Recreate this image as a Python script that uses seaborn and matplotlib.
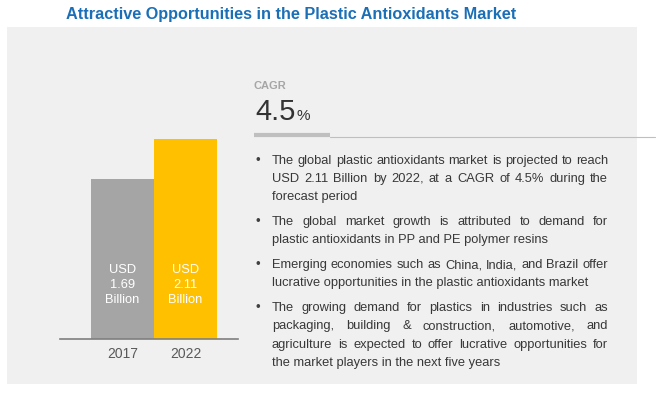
import matplotlib
matplotlib.use("Agg")
import matplotlib.pyplot as plt
import matplotlib.font_manager as fm
from matplotlib.patches import Rectangle
from matplotlib.lines import Line2D
import seaborn as sns
import pandas as pd

# ---------------- data ----------------
years = ["2017", "2022"]
values = [1.69, 2.11]
bar_colors = ["#A5A5A5", "#FFC000"]
cagr_value = "4.5"
title = "Attractive Opportunities in the Plastic Antioxidants Market"
bullets = [
    ["The global plastic antioxidants market is projected to reach",
     "USD 2.11 Billion by 2022, at a CAGR of 4.5% during the",
     "forecast period"],
    ["The global market growth is attributed to demand for",
     "plastic antioxidants in PP and PE polymer resins"],
    ["Emerging economies such as China, India, and Brazil offer",
     "lucrative opportunities in the plastic antioxidants market"],
    ["The growing demand for plastics in industries such as",
     "packaging, building & construction, automotive, and",
     "agriculture is expected to offer lucrative opportunities for",
     "the market players in the next five years"],
]

# ---------------- style ----------------
sns.set_theme(style="white")
plt.rcParams["font.family"] = ["Liberation Sans", "DejaVu Sans"]
names = {f.name for f in fm.fontManager.ttflist}
title_family = "Liberation Sans Narrow" if "Liberation Sans Narrow" in names else "Liberation Sans"
body_family = "Liberation Sans"

W, H = 660, 393
fig = plt.figure(figsize=(W / 100, H / 100), dpi=100)
fig.patch.set_facecolor("white")
renderer = fig.canvas.get_renderer()


def fx(x):
    return x / W


def fy(y):
    return 1 - y / H


def text_width(s, **kw):
    t = fig.text(0, 0, s, **kw)
    w = t.get_window_extent(renderer).width
    t.remove()
    return w


def fit_size(s, target, **kw):
    return 10 * target / text_width(s, fontsize=10, **kw)


# gray panel
fig.patches.append(Rectangle((fx(7), fy(384)), fx(637) - fx(7), fy(27) - fy(384),
                             transform=fig.transFigure, facecolor="#F0F0F0",
                             edgecolor="none", zorder=-5))

# title
tsize = fit_size(title, 452, family=title_family, weight="bold")
fig.text(fx(66), fy(14), title, family=title_family, weight="bold",
         fontsize=tsize, color="#1B6FB7", va="center", ha="left")

# ---------------- bar chart ----------------
ax = fig.add_axes([fx(60), fy(339), (238 - 60) / W, (339 - 100) / H])
ax.set_facecolor("none")
ax.set_zorder(2)
df = pd.DataFrame({"year": years, "value": values})
sns.barplot(data=df, x="year", y="value", hue="year", palette=bar_colors,
            width=1.0, saturation=1, legend=False, linewidth=0, ax=ax)
ax.set_xlim(-0.992, 1.833)
ax.set_ylim(0, 2.52)
for s in ["left", "top", "right"]:
    ax.spines[s].set_visible(False)
ax.spines["bottom"].set_color("#7F7F7F")
ax.spines["bottom"].set_linewidth(1.2)
ax.set_yticks([])
ax.set_xlabel("")
ax.set_ylabel("")
ax.tick_params(axis="x", which="major", length=0, pad=6, labelsize=10,
               labelcolor="#595959")
ax.set_xticks([-0.5, 0.5, 1.5], minor=True)
ax.tick_params(axis="x", which="minor", length=4, width=0.8, color="#C8C8C8",
               direction="inout")
for i, v in enumerate(values):
    ax.text(i, 0.226, f"USD\n{v:.2f}\nBillion", transform=ax.get_xaxis_transform(),
            ha="center", va="center", color="white", fontsize=9.3, linespacing=1.32,
            family=body_family)

# ---------------- CAGR ----------------
fig.text(fx(254), fy(86), "CAGR", fontsize=8, weight="bold", color="#A6A6A6",
         va="center", ha="left", family=title_family)
big = fig.text(fx(255), fy(120), cagr_value, fontsize=21, color="#333333",
               va="baseline", ha="left")
bw = big.get_window_extent(renderer)
fig.text(fx(bw.x1 + 1), fy(120), "%", fontsize=11, color="#333333",
         va="baseline", ha="left")
fig.add_artist(Line2D([fx(254), fx(330)], [fy(135), fy(135)], lw=3.0,
                      color="#BFBFBF", solid_capstyle="butt"))
fig.add_artist(Line2D([fx(330), fx(655)], [fy(136.5), fy(136.5)], lw=0.8,
                      color="#BFBFBF"))

# ---------------- bullets ----------------
bsize = fit_size("lucrative opportunities in the plastic antioxidants market", 316,
                 family=body_family)
starts = [160.5, 222, 265, 308]
spacing = 18.3
x0, x1 = 272, 608
body_kw = dict(fontsize=bsize, family=body_family, color="#383838")


def draw_line(line, y, justify):
    if not justify:
        fig.text(fx(x0), fy(y), line, va="center", ha="left", **body_kw)
        return
    words = line.split(" ")
    texts = [fig.text(0, fy(y), w, va="center", ha="left", **body_kw) for w in words]
    widths = [t.get_window_extent(renderer).width for t in texts]
    gap = (x1 - x0 - sum(widths)) / (len(words) - 1)
    x = x0
    for t, w in zip(texts, widths):
        t.set_x(fx(x))
        x += w + gap


for para, y0 in zip(bullets, starts):
    fig.text(fx(255), fy(y0), "•", fontsize=9.5, color="#404040", va="center", ha="left")
    for j, line in enumerate(para):
        draw_line(line, y0 + j * spacing, j < len(para) - 1)

fig.savefig("out.png", dpi=100)
